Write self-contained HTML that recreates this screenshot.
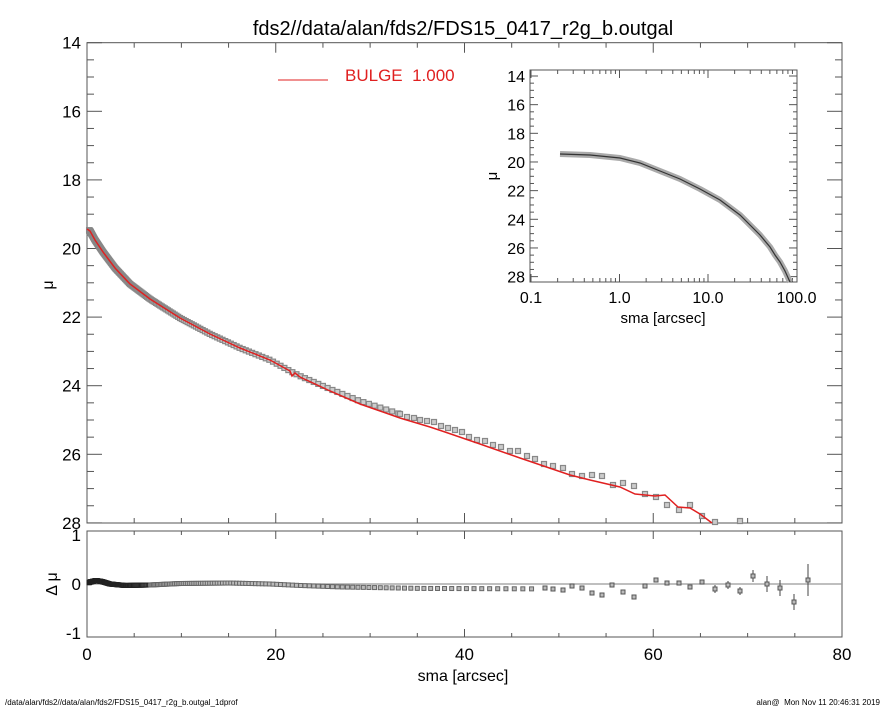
<!DOCTYPE html>
<html><head><meta charset="utf-8"><style>
html,body{margin:0;padding:0;background:#fff;}
svg{display:block;font-family:"Liberation Sans",sans-serif;}
</style></head><body>
<svg id="s" width="885" height="708" viewBox="0 0 885 708" xmlns="http://www.w3.org/2000/svg">
<rect width="885" height="708" fill="#fff"/>
<text x="463" y="35" font-size="20" text-anchor="middle" fill="#000">fds2//data/alan/fds2/FDS15_0417_r2g_b.outgal</text>
<line x1="278" y1="80" x2="328" y2="80" stroke="#e02020" stroke-width="1"/>
<text x="345" y="81" font-size="17" fill="#e02020" xml:space="preserve">BULGE  1.000</text>
<g id="g"></g>
<text x="48" y="290" font-size="16" text-anchor="middle" transform="rotate(-90 48 285)">μ</text>
<text x="52" y="589" font-size="16" text-anchor="middle" transform="rotate(-90 52 584)">Δ μ</text>
<text x="463" y="681" font-size="16" text-anchor="middle">sma [arcsec]</text>
<text x="663" y="323" font-size="15" text-anchor="middle">sma [arcsec]</text>
<text x="492" y="181" font-size="15" text-anchor="middle" transform="rotate(-90 492 176)">μ</text>
<text x="5" y="705" font-size="8" fill="#000">/data/alan/fds2//data/alan/fds2/FDS15_0417_r2g_b.outgal_1dprof</text>
<text x="880" y="705" font-size="8" text-anchor="end" fill="#000" xml:space="preserve">alan@  Mon Nov 11 20:46:31 2019</text>
</svg>
<script>
var g=document.getElementById("g"),h="";
function L(x1,y1,x2,y2,c,w){h+='<line x1="'+x1+'" y1="'+y1+'" x2="'+x2+'" y2="'+y2+'" stroke="'+(c||"#000")+'" stroke-width="'+(w||1)+'"/>';}
function T(x,y,s,sz,a){h+='<text x="'+x+'" y="'+y+'" font-size="'+sz+'" text-anchor="'+(a||"middle")+'">'+s+'</text>';}
function interp(P,x){if(x<=P[0][0])return P[0][1];for(var i=1;i<P.length;i++){if(x<=P[i][0]){var a=P[i-1],b=P[i];return a[1]+(b[1]-a[1])*(x-a[0])/(b[0]-a[0]);}}return P[P.length-1][1];}
var X0=87,X1=842,Y0=42.7,Y1=523,ys=34.3;
function mx(v){return X0+v*(X1-X0)/80;}
function my(v){return Y0+(v-14)*ys;}
h+='<rect x="'+X0+'" y="'+Y0+'" width="'+(X1-X0)+'" height="'+(Y1-Y0)+'" fill="none" stroke="#555" stroke-width="1"/>';
for(var v=14;v<=28.01;v+=0.5){var y=my(v),maj=Math.abs(v-Math.round(v/2)*2)<0.01,len=maj?15:7;L(X0,y,X0+len,y,"#555");L(X1,y,X1-len,y,"#555");if(maj)T(81,y+6,v,17,"end");}
for(var v=0;v<=80;v+=5){var x=mx(v),maj=v%20==0,len=maj?10:5;L(x,Y0,x,Y0+len,"#555");L(x,Y1,x,Y1-len,"#555");}
var R0=531,R1=637;function ry(d){return 584-49*d;}
h+='<rect x="'+X0+'" y="'+R0+'" width="'+(X1-X0)+'" height="'+(R1-R0)+'" fill="none" stroke="#555" stroke-width="1"/>';
L(X0,584,X1,584,"#999",1.2);
[[1,"1"],[0,"0"],[-1,"-1"]].forEach(function(p){T(81,ry(p[0])+6,p[1],17,"end");});
for(var v=0;v<=80;v+=5){var x=mx(v),maj=v%20==0,len=maj?8:4;L(x,R0,x,R0+len,"#555");L(x,R1,x,R1-len,"#555");if(maj)T(x,660,v,17);}
var C=[[87,229],[90,231],[95,240],[103,252],[115,268],[130,284],[150,299],[180,318],[210,334],[240,348],[270,360],[290,371],[300,376],[330,389],[360,401],[400,414]];
var S=[[400,414],[407,417],[414,418],[420,420],[427,421],[434,422],[441,426],[448,428],[455,430],[462,432],[469,437],[477,440],[485,441],[493,445],[501,447],[510,451],[518,451],[527,456],[535,459],[544,464],[553,466],[563,468],[572,474],[582,476],[592,475],[602,476],[613,485],[623,483],[634,486],[645,494],[656,497],[667,505],[679,510],[690,505],[702,516],[715,522],[740,521]];
var pts=[];for(var r=0.22;r<37;r*=1.02){var x=mx(r);if(x<400)pts.push([x,interp(C,x)]);}
pts=pts.concat(S);
pts.forEach(function(p){h+='<rect x="'+(p[0]-2.5)+'" y="'+(p[1]-2.5)+'" width="5" height="5" fill="#ccc" stroke="#888" stroke-width="1.2"/>';});
var Rl=[[87,229],[90,231],[95,240],[103,252],[115,268],[130,284],[150,299],[180,318],[210,334],[240,348],[270,360],[290,371],[292,376],[295,373],[300,377],[330,391],[360,404],[400,418],[430,427],[445,432],[480,444],[520,458],[570,475],[590,480],[620,487],[635,494],[655,496],[665,495],[678,507],[690,508],[700,514],[712,523]];
h+='<polyline fill="none" stroke="#e02020" stroke-width="1.5" points="'+Rl.map(function(p){return p.join(",")}).join(" ")+'"/>';
var RC=[[87,0],[90,0.04],[96,0.07],[102,0.05],[110,0.0],[125,-0.03],[150,-0.02],[180,0.01],[230,0.02],[270,0.0],[300,-0.03],[340,-0.06],[420,-0.09],[540,-0.1]];
for(var r=0.22;r<48;r*=1.02){var x=mx(r);if(x<540){var y=ry(interp(RC,x));var dark=x<150?"#222":"#666";h+='<rect x="'+(x-2)+'" y="'+(y-2)+'" width="4" height="4" fill="#bbb" stroke="'+dark+'" stroke-width="1"/>';}}
var RS=[[545,588],[553,589],[563,590],[572,586],[582,588],[592,593],[602,595],[612,585],[623,592],[634,597],[645,586],[656,580],[667,583],[679,583],[690,587],[702,582],[715,589,4],[728,585,4],[740,591,4],[753,576,6],[767,584,8],[780,588,8],[794,602,8],[808,580,16]];
RS.forEach(function(p){if(p[2])L(p[0],p[1]-p[2],p[0],p[1]+p[2],"#444",1);h+='<rect x="'+(p[0]-2)+'" y="'+(p[1]-2)+'" width="4" height="4" fill="#bbb" stroke="#555" stroke-width="1"/>';});
var IX0=530,IX1=797,IY0=70,IY1=282;
h+='<rect x="'+IX0+'" y="'+IY0+'" width="'+(IX1-IX0)+'" height="'+(IY1-IY0)+'" fill="#fff" stroke="#555" stroke-width="1"/>';
function iy(v){return 76+(v-14)*14.33;}
function ix(v){return 531+(Math.log10(v)+1)*88.5;}
for(var v=14;v<=28.01;v+=0.5){var y=iy(v),maj=Math.abs(v-Math.round(v/2)*2)<0.01,len=maj?8:4;L(IX0,y,IX0+len,y,"#555");L(IX1,y,IX1-len,y,"#555");if(maj)T(525,y+6,v,16,"end");}
for(var d=0;d<3;d++)for(var k=1;k<10;k++){var x=ix(Math.pow(10,d-1)*k),len=k==1?8:4;L(x,IY0,x,IY0+len,"#555");L(x,IY1,x,IY1-len,"#555");}
[["0.1",0.1],["1.0",1],["10.0",10],["100.0",100]].forEach(function(p){T(ix(p[1]),303,p[0],16);});
var IC=[[560,154],[590,155],[620,158],[640,163],[660,171],[680,179],[700,189],[720,200],[740,215],[760,235],[770,247],[775,255],[780,262],[785,271],[790,282]];
var ps=IC.map(function(p){return p.join(",")}).join(" ");
h+='<polyline fill="none" stroke="#aaa" stroke-width="6" stroke-linejoin="round" points="'+ps+'"/>';
h+='<polyline fill="none" stroke="#333" stroke-width="1.2" points="'+ps+'"/>';
g.innerHTML=h;
</script>
</body></html>
